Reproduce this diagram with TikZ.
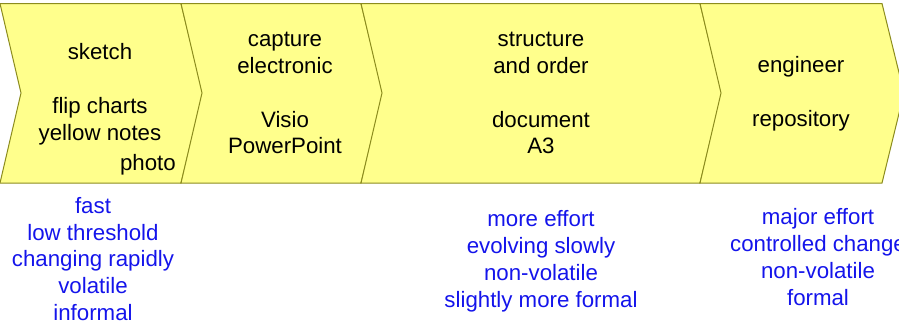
\documentclass[tikz,border=0pt]{standalone}
\usepackage{fontspec}
\setmainfont{Liberation Sans}
\definecolor{chevfill}{RGB}{255,255,140}
\definecolor{chevline}{RGB}{140,140,30}
\definecolor{notetext}{RGB}{20,20,235}

\begin{document}
\begin{tikzpicture}[x=0.75pt,y=-0.75pt,
  chevron/.style={fill=chevfill,draw=chevline,line width=0.75pt},
  steptext/.style={font=\fontsize{16.7pt}{20.2pt}\selectfont,align=center,inner sep=0pt},
  notes/.style={steptext,text=notetext}]
\useasboundingbox (0,0) rectangle (899,325);
\foreach \l/\r in {0/181,181/361,361/700,700/882}
  \filldraw[chevron] (\l,3.5) -- (\r,3.5) -- ({\r+22},93) -- (\r,183)
    -- (\l,183) -- ({\l+21},93) -- cycle;
\node[steptext] (sketch) at (100,94) {sketch\\[20.2pt]flip charts\\yellow notes};
\node[steptext,anchor=east] (photo) at (176,165) {photo};
\node[steptext] (capture) at (285,93) {capture\\electronic\\[20.2pt]Visio\\PowerPoint};
\node[steptext] (structure) at (541,93) {structure\\and order\\[20.2pt]document\\A3};
\node[steptext] (engineer) at (801,94) {engineer\\[20.2pt]repository};
\node[notes] (fast) at (93,259) {fast\\low threshold\\changing rapidly\\volatile\\informal};
\node[notes] (effort) at (541,261) {more effort\\evolving slowly\\non-volatile\\slightly more formal};
\node[notes] (major) at (818,257) {major effort\\controlled change\\non-volatile\\formal};
\end{tikzpicture}
\end{document}
